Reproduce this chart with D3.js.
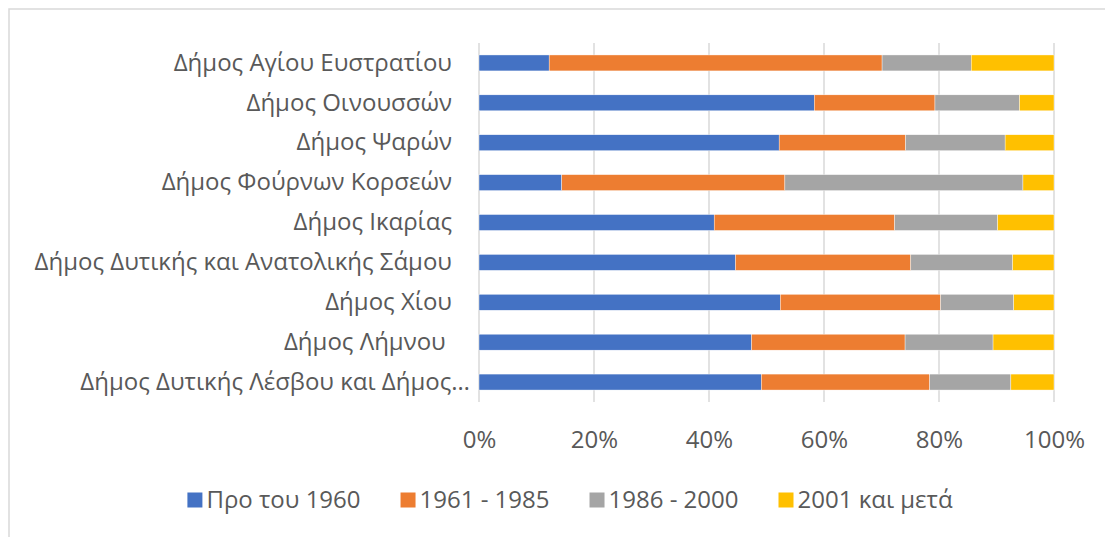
<!DOCTYPE html>
<html>
<head>
<meta charset="utf-8">
<script src="https://cdn.jsdelivr.net/npm/d3@7"></script>
<style>
  body { margin: 0; background: #fff; }
  text { font-family: "Open Sans", sans-serif; fill: #595959; }
</style>
</head>
<body>
<script>
const w = 1105;
const h = 537;

// data (shares per municipality, %)
const categories = [
  "Δήμος Αγίου Ευστρατίου",
  "Δήμος Οινουσσών",
  "Δήμος Ψαρών",
  "Δήμος Φούρνων Κορσεών",
  "Δήμος Ικαρίας",
  "Δήμος Δυτικής και Ανατολικής Σάμου",
  "Δήμος Χίου",
  "Δήμος Λήμνου ",
  "Δήμος Δυτικής Λέσβου και Δήμος…"
];
const seriesNames = ["Προ του 1960", "1961 - 1985", "1986 - 2000", "2001 και μετά"];
const before1960 = [12.2, 58.3, 52.2, 14.4, 40.9, 44.6, 52.4, 47.4, 49.1];
const from1961 = [57.9, 21.0, 22.0, 38.8, 31.4, 30.5, 27.9, 26.7, 29.3];
const from1986 = [15.5, 14.7, 17.3, 41.4, 17.9, 17.7, 12.7, 15.3, 14.1];
const after2001 = [14.4, 6.0, 8.5, 5.4, 9.8, 7.2, 7.0, 10.6, 7.5];
const tickValues = [0, 0.2, 0.4, 0.6, 0.8, 1];
const colors = ["#4472c4", "#ed7d31", "#a5a5a5", "#ffc000"];

const svg = d3.select("body")
              .append("svg")
              .attr("width", w)
              .attr("height", h);

// chart frame (right and bottom edges fall outside the picture)
svg.append("rect")
   .attr("x", 9).attr("y", 9)
   .attr("width", w + 20).attr("height", h + 20)
   .attr("fill", "none")
   .attr("stroke", "#d9d9d9")
   .attr("stroke-width", 1.5);

const rows = categories.map((c, i) => ({
  name: c,
  s0: before1960[i], s1: from1961[i], s2: from1986[i], s3: after2001[i]
}));

const stack = d3.stack()
  .keys(["s0", "s1", "s2", "s3"])
  .offset(d3.stackOffsetExpand);
const layers = stack(rows);

const xScale = d3.scaleLinear()
  .domain([0, 1])
  .range([479, 1054]);

const yScale = d3.scaleBand()
  .domain(categories)
  .range([43, 402])
  .paddingInner(0.6)
  .paddingOuter(0.3);

// vertical gridlines
svg.append("g")
   .selectAll("line")
   .data(tickValues)
   .join("line")
   .attr("x1", d => xScale(d)).attr("x2", d => xScale(d))
   .attr("y1", 43).attr("y2", 402)
   .attr("stroke", "#d9d9d9")
   .attr("stroke-width", 1.5);

// bars
svg.append("g")
   .selectAll("g")
   .data(layers)
   .join("g")
   .attr("fill", (d, i) => colors[i])
   .selectAll("rect")
   .data(d => d)
   .join("rect")
   .attr("x", d => xScale(d[0]))
   .attr("y", d => yScale(d.data.name))
   .attr("width", d => xScale(d[1]) - xScale(d[0]))
   .attr("height", yScale.bandwidth())
   .attr("stroke", "#ffffff")
   .attr("stroke-width", 0.4);

// x axis labels
const xAxis = d3.axisBottom(xScale)
  .tickValues(tickValues)
  .tickFormat(d3.format(".0%"))
  .tickSize(0)
  .tickPadding(0);

svg.append("g")
   .attr("transform", "translate(0,431)")
   .call(xAxis)
   .call(g => g.select(".domain").remove())
   .selectAll("text")
   .style("font-size", "24px")
   .style("font-family", "\"Open Sans\", sans-serif")
   .attr("fill", "#595959");

// category labels
const yAxis = d3.axisLeft(yScale)
  .tickSize(0)
  .tickPadding(27);

svg.append("g")
   .attr("transform", "translate(479,0)")
   .call(yAxis)
   .call(g => g.select(".domain").remove())
   .selectAll("text")
   .style("font-size", "24px")
   .style("font-family", "\"Open Sans\", sans-serif")
   .style("white-space", "pre")
   .attr("fill", "#595959")
   .attr("x", d => d.endsWith("…") ? -9 : -27);

// legend
const legend = svg.append("g");
const items = legend.selectAll("g")
  .data(seriesNames)
  .join("g");

items.append("rect")
  .attr("width", 15).attr("height", 15)
  .attr("y", -7.5)
  .attr("fill", (d, i) => colors[i]);

items.append("text")
  .attr("x", 19)
  .attr("dy", "0.35em")
  .style("font-size", "24px")
  .text(d => d);

const gap = 40;
let xPos = 0;
items.each(function () {
  const g = d3.select(this);
  g.attr("transform", "translate(" + xPos + ",0)");
  xPos += 19 + g.select("text").node().getComputedTextLength() + gap;
});
xPos -= gap;
legend.attr("transform", "translate(" + (570 - xPos / 2) + ",500)");
</script>
</body>
</html>
